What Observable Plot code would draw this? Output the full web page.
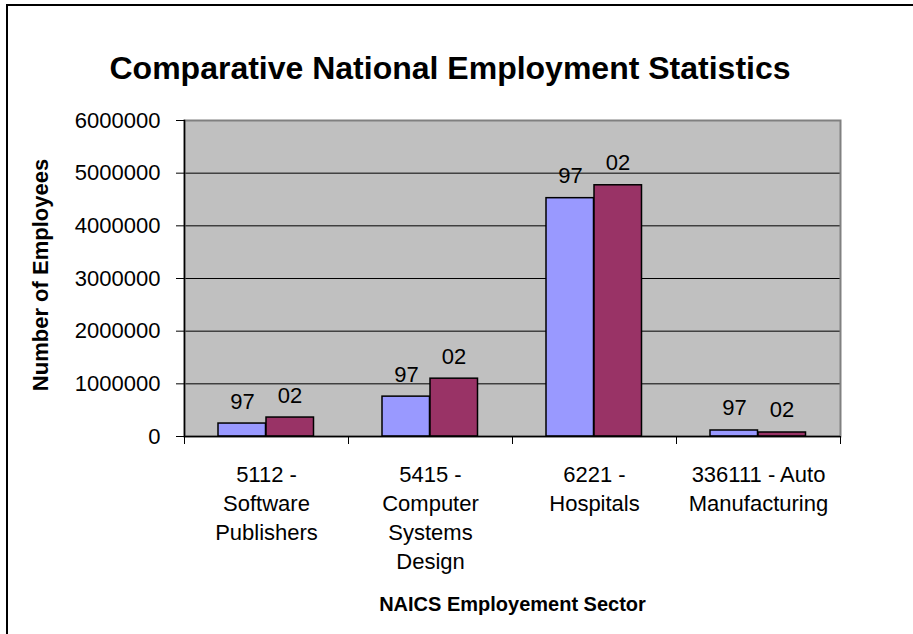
<!DOCTYPE html>
<html>
<head>
<meta charset="utf-8">
<script src="https://cdn.jsdelivr.net/npm/d3@7"></script>
<script src="https://cdn.jsdelivr.net/npm/@observablehq/plot@0.6"></script>
<style>
  html, body { margin: 0; padding: 0; background: #fff; }
  #wrap { position: relative; width: 913px; height: 634px; overflow: hidden; font-family: "Liberation Sans", Arial, sans-serif; }
  #border { position: absolute; left: 6px; top: 4px; width: 960px; height: 700px; border: 2px solid #000; box-sizing: border-box; }
  #title { position: absolute; left: 0; top: 52px; width: 900px; text-align: center; font-size: 32px; line-height: 32px; font-weight: bold; color: #000; }
  #ytitle { position: absolute; left: 41px; top: 275px; width: 300px; height: 24px; margin-left: -150px; margin-top: -12px; text-align: center; font-size: 22px; line-height: 24px; font-weight: bold; color: #000; transform: rotate(-90deg); white-space: nowrap; }
  #chart { position: absolute; left: 0; top: 0; }
</style>
</head>
<body>
<div id="wrap">
  <div id="border"></div>
  <div id="chart"></div>
  <div id="title">Comparative National Employment Statistics</div>
  <div id="ytitle">Number of Employees</div>
</div>
<script>
const categories = ["5112 - Software Publishers", "5415 - Computer Systems Design", "6221 - Hospitals", "336111 - Auto Manufacturing"];
const tickLabels = ["5112 -\nSoftware\nPublishers", "5415 -\nComputer\nSystems\nDesign", "6221 -\nHospitals", "336111 - Auto\nManufacturing"];
const years = ["97", "02"];
const values97 = [246000, 757000, 4525000, 114000];
const values02 = [360000, 1098000, 4770000, 76000];
const yTicks = [0, 1000000, 2000000, 3000000, 4000000, 5000000, 6000000];

const rows97 = categories.map((c, i) => ({category: c, value: values97[i], year: years[0]}));
const rows02 = categories.map((c, i) => ({category: c, value: values02[i], year: years[1]}));

const chart = Plot.plot({
  width: 913,
  height: 634,
  marginLeft: 184,
  marginRight: 73,
  marginTop: 120,
  marginBottom: 198,
  style: {fontFamily: "'Liberation Sans', Arial, sans-serif", fontSize: "22px", background: "transparent", color: "#000"},
  x: {domain: categories, padding: 0, axis: null},
  y: {domain: [0, 6000000], axis: null},
  marks: [
    Plot.frame({fill: "#C0C0C0"}),
    Plot.ruleY(yTicks.filter(d => d > 0 && d < 6000000), {stroke: "#000", strokeWidth: 1}),
    Plot.frame({stroke: "#808080", strokeWidth: 2}),
    Plot.barY(rows97, {x: "category", y: "value", fill: "#9999FF", stroke: "#000", strokeWidth: 1.5, insetLeft: 34, insetRight: 82.5}),
    Plot.barY(rows02, {x: "category", y: "value", fill: "#993366", stroke: "#000", strokeWidth: 1.5, insetLeft: 82, insetRight: 34.5}),
    Plot.ruleY([0], {stroke: "#000", strokeWidth: 1.5}),
    Plot.frame({anchor: "left", stroke: "#000", strokeWidth: 1.5}),
    Plot.axisY({ticks: yTicks, tickSize: 8, tickPadding: 16, tickFormat: d3.format("d"), fontSize: 22, label: null, stroke: "#000"}),
    Plot.ruleX(categories, {x: d => d, dx: -82, insetTop: 316, insetBottom: -8, stroke: "#000", strokeWidth: 1}),
    Plot.ruleX(categories.slice(-1), {x: d => d, dx: 82, insetTop: 316, insetBottom: -8, stroke: "#000", strokeWidth: 1}),
    Plot.text(categories, {x: d => d, text: (d, i) => tickLabels[i], frameAnchor: "bottom", lineAnchor: "top", dy: 25, lineHeight: 1.32, fontSize: 22}),
    Plot.text(rows97, {x: "category", y: "value", text: "year", dx: -24, dy: -15, lineAnchor: "bottom", fontSize: 22}),
    Plot.text(rows02, {x: "category", y: "value", text: "year", dx: 23.5, dy: -15, lineAnchor: "bottom", fontSize: 22}),
    Plot.text(["NAICS Employement Sector"], {frameAnchor: "bottom", lineAnchor: "bottom", dy: 174, fontSize: 20, fontWeight: "bold"})
  ]
});
document.getElementById("chart").appendChild(chart);
</script>
</body>
</html>
